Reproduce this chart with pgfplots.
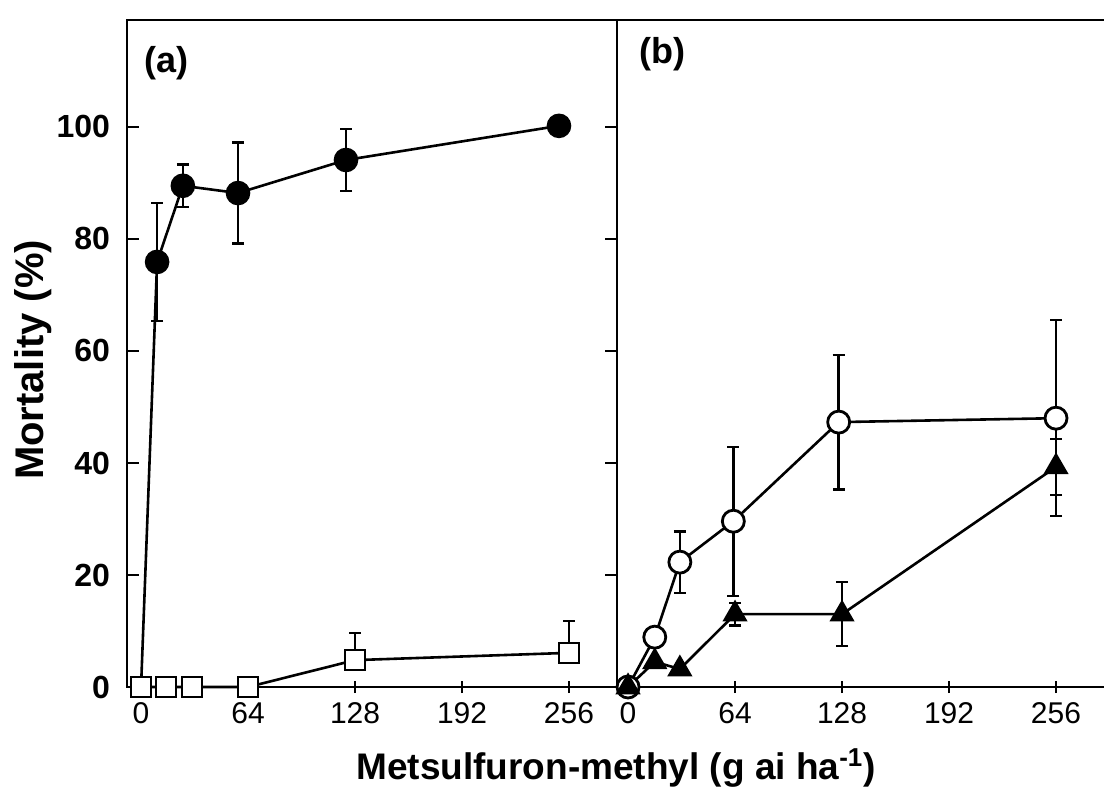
\documentclass[border=0pt]{standalone}
\usepackage{pgfplots}
\pgfplotsset{compat=1.18}
\usepackage{pgfplotstable}
\usepackage{fontspec}
\setmainfont{Liberation Sans}

\pgfplotstableread{
x y e
0 0 0
9.6 75.9 10.5
25 89.5 3.8
58 88.2 9
122.6 94.1 5.5
250 100.2 0
}\acircles
\pgfplotstableread{
x y e
0 0 0
15 0 0
30.5 0 0
64 0 0
128 4.8 4.8
256 6.1 5.7
}\asquares
\pgfplotstableread{
x y e
0 0 0
16 8.9 0
31 22.3 5.5
63 29.6 13.3
126 47.3 12
256 48 17.5
}\bcircles
\pgfplotstableread{
x y e
0 0 0
16 4.5 0
31 3.2 0
64 13 2
128 13 5.7
256 39.3 5
}\btriangles

\begin{document}
\begin{tikzpicture}
\useasboundingbox (0pt,0pt) rectangle (552pt,397pt);
\pgfplotsset{
  panel/.style={
    scale only axis,
    anchor=south west,
    height=333.5pt,
    ymin=0, ymax=119.1,
    xmax=284.7,
    xtick={0,64,128,192,256},
    ytick={0,20,40,60,80,100},
    axis line style={line width=1.4pt, black},
    tick align=center,
    major tick length=6pt,
    every tick/.style={line width=1.2pt, black},
    /pgf/number format/assume math mode=true,
    xticklabel style={font=\fontsize{15}{16}\selectfont, yshift=-1pt},
    yticklabel style={font=\bfseries\fontsize{16}{17}\selectfont},
    every axis plot/.append style={line width=1.3pt, black},
    error bars/error mark=-,
    error bars/error mark options={rotate=90, black, mark size=3pt, line width=1.2pt},
    error bars/error bar style={line width=1.2pt, black},
    clip=false,
  }
}
% panel (a)
\begin{axis}[panel,
  at={(63.5pt,53.5pt)}, width=245pt,
  xmin=-8.4,
  tick pos=left,
  ytick style={xshift=3pt},
  yticklabel style={xshift=-2pt},
]
\addplot[mark=*, mark size=5.5pt, mark options={fill=black},
  mark indices={2,3,4,5,6},
  error bars/.cd, y dir=both, y explicit]
  table[x=x, y=y, y error=e] {\acircles};
\addplot[mark=square*, mark size=5pt, mark options={fill=white},
  error bars/.cd, y dir=plus, y explicit]
  table[x=x, y=y, y error=e] {\asquares};
\node[font=\bfseries\fontsize{18}{19}\selectfont] at (rel axis cs:0.08,0.935) {(a)};
\end{axis}
% panel (b)
\begin{axis}[panel,
  at={(308.5pt,53.5pt)}, width=243.5pt,
  xmin=-6.6,
  axis x line*=bottom, axis y line*=left,
  yticklabels={},
  ytick style={xshift=-3pt},
]
\draw[line width=1.4pt] (rel axis cs:0,1) -- (rel axis cs:1,1);
\addplot[mark=*, mark size=5.5pt, mark options={fill=white, line width=1.4pt},
  error bars/.cd, y dir=both, y explicit]
  table[x=x, y=y, y error=e] {\bcircles};
\addplot[mark=triangle*, mark size=6pt, mark options={fill=black},
  error bars/.cd, y dir=both, y explicit]
  table[x=x, y=y, y error=e] {\btriangles};
\node[font=\bfseries\fontsize{18}{19}\selectfont] at (rel axis cs:0.093,0.948) {(b)};
\end{axis}
\node[rotate=90, font=\bfseries\fontsize{20}{21}\selectfont] at (16.5pt,217pt) {Mortality (\%)};
\node[font=\bfseries\fontsize{18.5}{20}\selectfont] at (308pt,13pt) {Metsulfuron-methyl (g ai ha\textsuperscript{-1})};
\end{tikzpicture}
\end{document}
